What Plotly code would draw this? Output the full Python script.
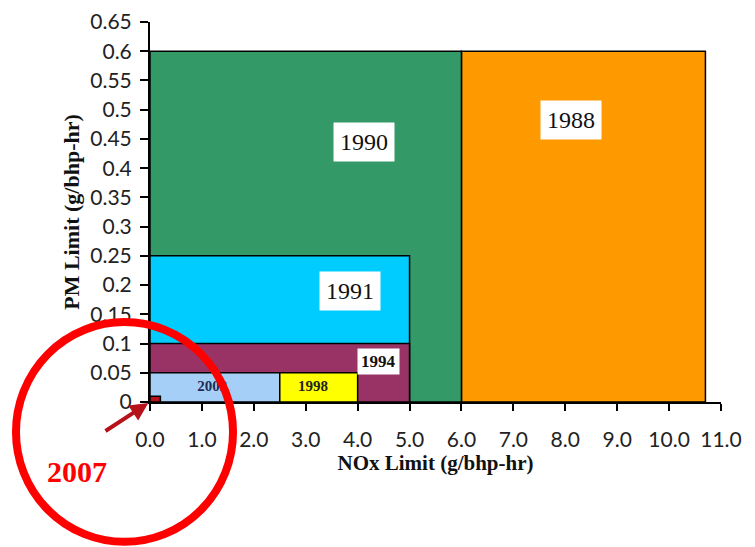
import plotly.graph_objects as go

# Standard boxes: (label, NOx limit start, NOx limit end, PM limit, colour)
years = ["1988", "1990", "1991", "1994", "2002", "1998", "2007"]
nox_lo = [6.0, 0.0, 0.0, 0.0, 0.0, 2.5, 0.0]
nox_hi = [10.7, 6.0, 5.0, 5.0, 2.5, 4.0, 0.2]
pm_hi = [0.60, 0.60, 0.25, 0.10, 0.05, 0.05, 0.01]
colors = ["#FF9900", "#339966", "#00CCFF", "#993366", "#A6CFF7", "#FFFF00", "#B5121B"]

# Label positions (data units)
lab_years = ["1990", "1988", "1991", "1994"]
lab_x = [4.12, 8.11, 3.85, 4.41]
lab_y = [0.444, 0.483, 0.19, 0.070]
lab_size = [24, 24, 24, 17]
lab_bold = [False, False, False, True]

txt_years = ["1998", "2002"]
txt_x = [3.14, 1.20]
txt_y = [0.026, 0.025]
txt_color = ["#222222", "#1F2A55"]

x_ticks = [0, 1, 2, 3, 4, 5, 6, 7, 8, 9, 10, 11]
y_ticks = [0, 0.05, 0.1, 0.15, 0.2, 0.25, 0.3, 0.35, 0.4, 0.45, 0.5, 0.55, 0.6, 0.65]

fig = go.Figure()
for yr, x0, x1, y1, c in zip(years, nox_lo, nox_hi, pm_hi, colors):
    fig.add_trace(go.Scatter(
        x=[x0, x1, x1, x0, x0], y=[0, 0, y1, y1, 0],
        mode="lines", fill="toself", fillcolor=c,
        line=dict(color="black", width=1.5),
        name=yr, hoverinfo="name", showlegend=False))

fig.add_trace(go.Scatter(
    x=txt_x, y=txt_y, text=["<b>%s</b>" % t for t in txt_years], mode="text",
    textfont=dict(family="Liberation Serif", size=15, color=txt_color),
    showlegend=False, hoverinfo="skip"))

for t, x, y, s, b in zip(lab_years, lab_x, lab_y, lab_size, lab_bold):
    fig.add_annotation(
        x=x, y=y, text=("<b>%s</b>" % t) if b else t, showarrow=False,
        font=dict(family="Liberation Serif", size=s, color="#111111"),
        bgcolor="white", borderpad=6 if not b else 3)

# red circle highlighting 2007
fig.add_shape(type="circle", xref="paper", yref="paper",
              x0=-0.2347, x1=0.1454, y0=-0.368, y1=0.2105,
              line=dict(color="#FF0000", width=8), layer="above")

# arrow pointing to 2007 box
fig.add_annotation(x=0, y=0, ax=-46, ay=30, text="", showarrow=True,
                   arrowhead=2, arrowsize=0.9, arrowwidth=4, arrowcolor="#B5121B",
                   standoff=2)
fig.add_annotation(xref="paper", yref="paper", x=(77 - 150) / 571, y=(402 - 472) / 380,
                   xanchor="center", yanchor="middle",
                   text="<b>2007</b>", showarrow=False,
                   font=dict(family="Liberation Serif", size=30, color="#FF0000"))

fig.update_layout(
    width=755, height=547,
    margin=dict(l=142, r=42, t=14, b=153),
    paper_bgcolor="white", plot_bgcolor="white",
    xaxis=dict(range=[0, 11], tickvals=x_ticks, tickformat=".1f", automargin=False,
               showgrid=False, zeroline=False, showline=True, linecolor="black", linewidth=2,
               ticks="outside", ticklen=7, tickwidth=2, tickcolor="black",
               tickfont=dict(family="Lato", size=21, color="#222222"),
               ticklabelstandoff=11, ticklabeloverflow="allow",
               title=dict(text="<b>NOx Limit (g/bhp-hr)</b>", standoff=0,
                          font=dict(family="Liberation Serif", size=21, color="#111111"))),
    yaxis=dict(range=[0, 0.65], tickvals=y_ticks, automargin=False,
               showgrid=False, zeroline=False, showline=True, linecolor="black", linewidth=2,
               ticks="outside", ticklen=8, tickwidth=2, tickcolor="black",
               tickfont=dict(family="Lato", size=21, color="#222222"),
               ticklabelstandoff=4, ticklabeloverflow="allow",
               title=dict(text="<b>PM Limit (g/bhp-hr)</b>", standoff=5,
                          font=dict(family="Liberation Serif", size=22, color="#111111"))),
)

fig.write_html("out.html")
